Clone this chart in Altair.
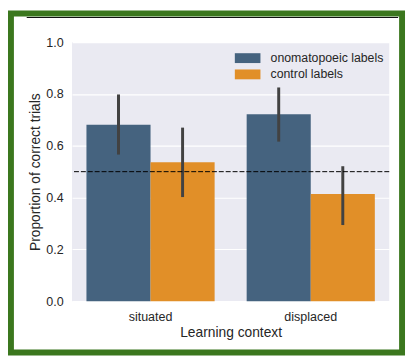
import altair as alt
import pandas as pd

# ---- data ----
contexts = ["situated", "situated", "displaced", "displaced"]
label_types = ["onomatopoeic labels", "control labels", "onomatopoeic labels", "control labels"]
means = [0.681, 0.536, 0.722, 0.414]
ci_low = [0.566, 0.402, 0.616, 0.294]
ci_high = [0.798, 0.670, 0.825, 0.521]

context_order = ["situated", "displaced"]
label_order = ["onomatopoeic labels", "control labels"]
bar_colors = ["#45637f", "#e18f28"]
chance_level = [0.5]
y_ticks = [0.0, 0.2, 0.4, 0.6, 0.8, 1.0]

df = pd.DataFrame({
    "context": contexts,
    "label": label_types,
    "mean": means,
    "lo": ci_low,
    "hi": ci_high,
})

FONT = "Liberation Sans"
TXT = "#262626"

x_enc = alt.X("context:N", sort=context_order,
              scale=alt.Scale(paddingInner=0.2, paddingOuter=0.09),
              axis=alt.Axis(title="Learning context", labelAngle=0))
xo_enc = alt.XOffset("label:N", sort=label_order, scale=alt.Scale(paddingInner=0, paddingOuter=0))

bars = alt.Chart(df).mark_bar().encode(
    x=x_enc,
    xOffset=xo_enc,
    y=alt.Y("mean:Q", scale=alt.Scale(domain=[0, 1], nice=False),
            axis=alt.Axis(title="Proportion of correct trials", values=y_ticks, format=".1f")),
    color=alt.Color("label:N", sort=label_order,
                    scale=alt.Scale(domain=label_order, range=bar_colors),
                    legend=alt.Legend(title=None)),
)

errs = alt.Chart(df).mark_rule(color="#424242", strokeWidth=3).encode(
    x=x_enc,
    xOffset=xo_enc,
    y="lo:Q",
    y2="hi:Q",
)

chance = alt.Chart(pd.DataFrame({"v": chance_level})).mark_rule(
    color="black", strokeWidth=1, strokeDash=[5, 2]
).encode(y="v:Q")

one = alt.Data(values=[{"a": 1}])

frame = alt.Chart(one).mark_rect(
    filled=False, stroke="#3b771e", strokeWidth=6
).encode(
    x=alt.value(-62), x2=alt.value(335), y=alt.value(-29), y2=alt.value(315)
)

topline = alt.Chart(one).mark_rule(color="#111111", strokeWidth=1.2).encode(
    x=alt.value(-46), x2=alt.value(331), y=alt.value(-25)
)

chart = alt.layer(bars, errs, chance, frame, topline).properties(
    width=322,
    height=263,
    autosize=alt.AutoSizeParams(type="none"),
    padding={"left": 65, "top": 32, "right": 17, "bottom": 55},
    background="white",
).configure(
    font=FONT,
).configure_view(
    fill="#EAEAF2", strokeWidth=0, stroke="transparent"
).configure_axis(
    domain=False, ticks=False, tickSize=0,
    labelFont=FONT, labelFontSize=12.7, labelColor=TXT,
    titleFont=FONT, titleFontSize=14, titleFontWeight="normal", titleColor=TXT,
    gridColor="white", gridWidth=1.2,
).configure_axisY(
    labelPadding=9, titlePadding=3,
).configure_axisX(
    grid=False, labelPadding=10, titlePadding=2,
).configure_legend(
    orient="none", legendX=172, legendY=10, padding=0,
    symbolType="M-2.6,-1H2.6V1H-2.6Z", symbolSize=100,
    symbolStrokeWidth=0, symbolOpacity=1,
    labelFont=FONT, labelFontSize=12.5, labelColor=TXT, labelOffset=17,
    rowPadding=3.5,
)

chart.save("out.html", embed_options={"renderer": "svg", "actions": False})
